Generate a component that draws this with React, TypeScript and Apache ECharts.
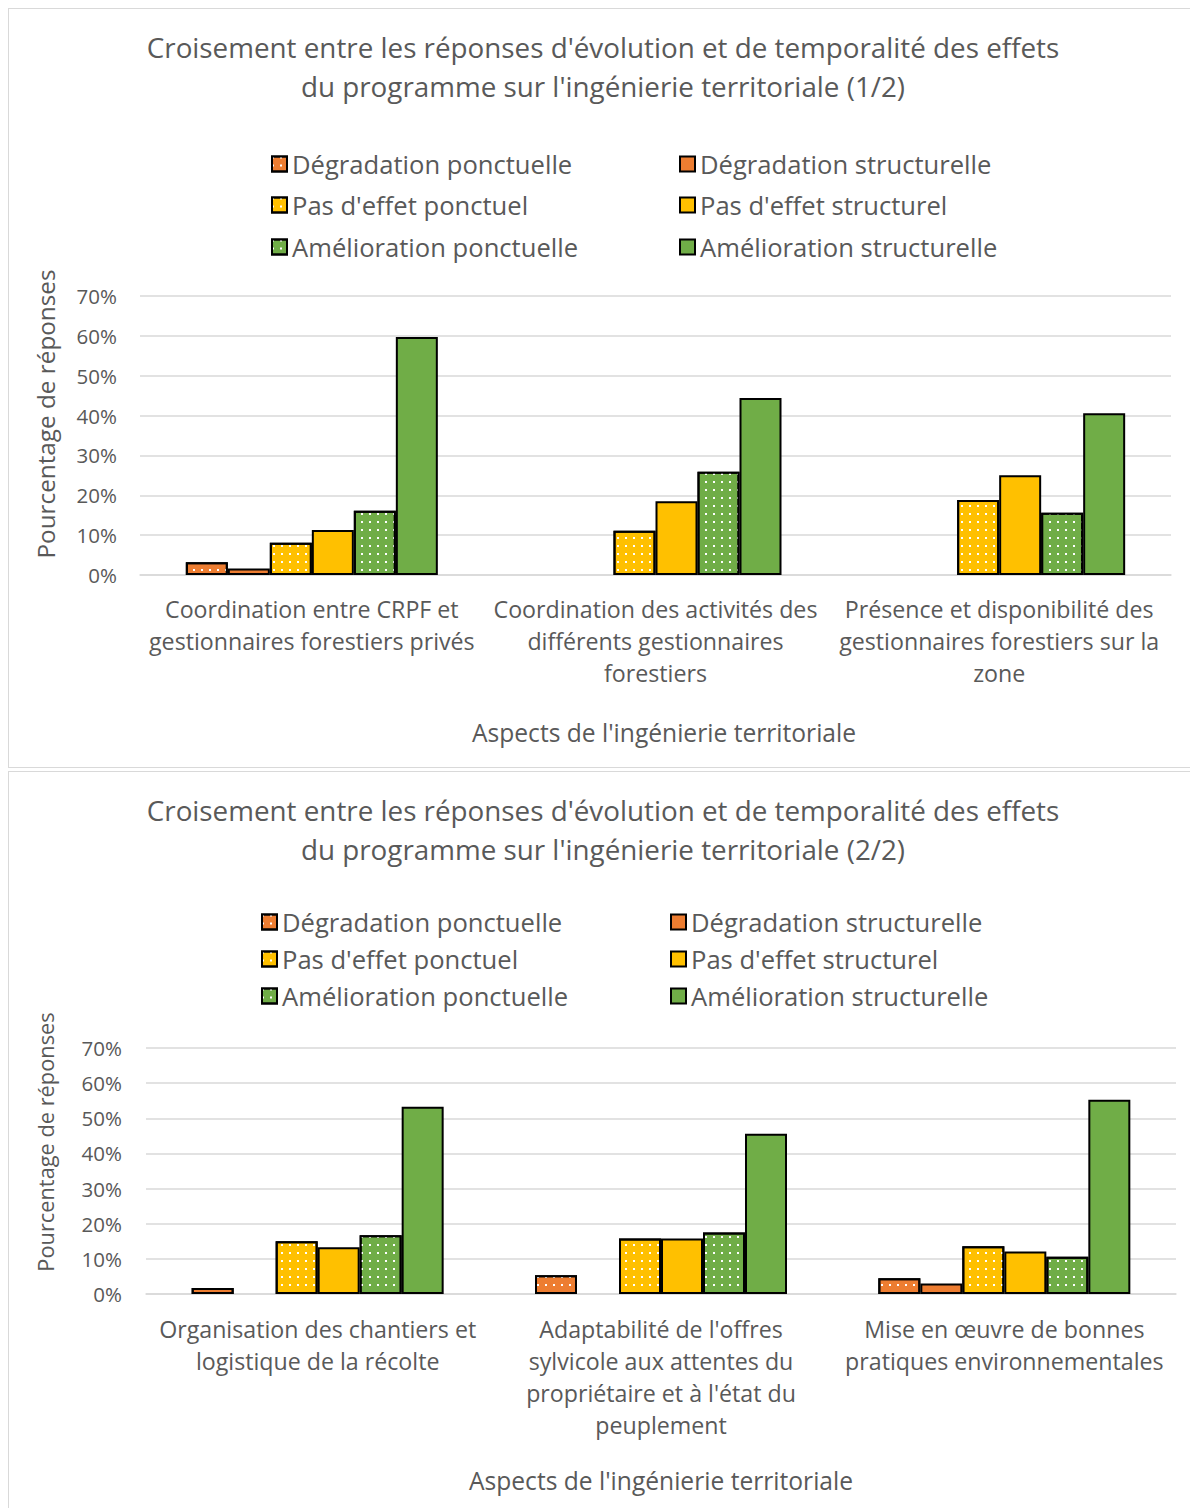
import React, { useEffect, useRef } from "react";
import * as echarts from "echarts";

const FONT = "'Open Sans', 'Noto Sans', sans-serif";
const TEXT_COLOR = "#595959";
const GRID_COLOR = "#d9d9d9";

const seriesNames = [
  "Dégradation ponctuelle",
  "Dégradation structurelle",
  "Pas d'effet ponctuel",
  "Pas d'effet structurel",
  "Amélioration ponctuelle",
  "Amélioration structurelle",
];
const seriesColors = ["#ED7D31", "#ED7D31", "#FFC000", "#FFC000", "#70AD47", "#70AD47"];
const seriesDotted = [true, false, true, false, true, false];

const yTicks = [0, 10, 20, 30, 40, 50, 60, 70];
const xAxisTitle = "Aspects de l'ingénierie territoriale";
const yAxisTitle = "Pourcentage de réponses";

// Chart 1
const title1 = "Croisement entre les réponses d'évolution et de temporalité des effets\ndu programme sur l'ingénierie territoriale (1/2)";
const categories1 = [
  "Coordination entre CRPF et\ngestionnaires forestiers privés",
  "Coordination des activités des\ndifférents gestionnaires\nforestiers",
  "Présence et disponibilité des\ngestionnaires forestiers sur la\nzone",
];
const degradationPonctuelle1 = [3.2, 0, 0];
const degradationStructurelle1 = [1.6, 0, 0];
const pasEffetPonctuel1 = [8.1, 11.1, 18.8];
const pasEffetStructurel1 = [11.3, 18.5, 25.0];
const ameliorationPonctuelle1 = [16.1, 25.9, 15.6];
const ameliorationStructurelle1 = [59.7, 44.4, 40.6];

// Chart 2
const title2 = "Croisement entre les réponses d'évolution et de temporalité des effets\ndu programme sur l'ingénierie territoriale (2/2)";
const categories2 = [
  "Organisation des chantiers et\nlogistique de la récolte",
  "Adaptabilité de l'offres\nsylvicole aux attentes du\npropriétaire et à l'état du\npeuplement",
  "Mise en œuvre de bonnes\npratiques environnementales",
];
const degradationPonctuelle2 = [1.7, 5.3, 4.5];
const degradationStructurelle2 = [0, 0, 3.0];
const pasEffetPonctuel2 = [15.0, 15.8, 13.6];
const pasEffetStructurel2 = [13.3, 15.8, 12.1];
const ameliorationPonctuelle2 = [16.7, 17.5, 10.6];
const ameliorationStructurelle2 = [53.3, 45.6, 55.3];

const values1 = [degradationPonctuelle1, degradationStructurelle1, pasEffetPonctuel1, pasEffetStructurel1, ameliorationPonctuelle1, ameliorationStructurelle1];
const values2 = [degradationPonctuelle2, degradationStructurelle2, pasEffetPonctuel2, pasEffetStructurel2, ameliorationPonctuelle2, ameliorationStructurelle2];

const dotDecal = {
  symbol: "rect",
  symbolSize: 1,
  color: "#ffffff",
  dashArrayX: [2, 6],
  dashArrayY: [2, 6],
  rotation: 0,
};

type Layout = {
  titleTop: number;
  legendLeft: number[];
  legendRows: number[];
  grid: { left: number; right: number; top: number; bottom: number };
  yLabelMargin: number;
  xLabelMargin: number;
  xNameGap: number;
  xNamePadLeft: number;
  yTitleX: number;
  yTitleY: number;
  yTitleSize: number;
};

function buildOption(title: string, categories: string[], values: number[][], L: Layout) {
  return {
    animation: false,
    textStyle: { fontFamily: FONT },
    title: {
      text: title,
      left: "center",
      top: L.titleTop,
      padding: [0, 0, 0, 7],
      textStyle: { fontSize: 27.8, fontWeight: "normal", color: TEXT_COLOR, lineHeight: 39, fontFamily: FONT },
    },
    legend: seriesNames.map((name, i) => ({
      data: [name],
      left: L.legendLeft[i % 2],
      top: L.legendRows[Math.floor(i / 2)] - 13,
      padding: 0,
      itemWidth: 15,
      itemHeight: 15,
      icon: "rect",
      selectedMode: false,
      textStyle: { fontSize: 25.6, color: TEXT_COLOR, lineHeight: 26, fontFamily: FONT },
    })),
    grid: { ...L.grid, containLabel: false },
    xAxis: {
      type: "category",
      data: categories,
      axisLine: { lineStyle: { color: GRID_COLOR, width: 1.5 } },
      axisTick: { show: false },
      axisLabel: { interval: 0, fontSize: 23.2, lineHeight: 32, color: TEXT_COLOR, margin: L.xLabelMargin, fontFamily: FONT },
      name: xAxisTitle,
      nameLocation: "middle",
      nameGap: L.xNameGap,
      nameTextStyle: { fontSize: 24.6, color: TEXT_COLOR, lineHeight: 28, fontFamily: FONT, padding: [0, 0, 0, L.xNamePadLeft] },
    },
    yAxis: {
      type: "value",
      min: yTicks[0],
      max: yTicks[yTicks.length - 1],
      interval: yTicks[1] - yTicks[0],
      axisLine: { show: false },
      axisTick: { show: false },
      axisLabel: { formatter: "{value}%", fontSize: 20.5, color: TEXT_COLOR, margin: L.yLabelMargin, fontFamily: FONT },
      splitLine: { lineStyle: { color: GRID_COLOR, width: 1.5 } },
    },
    graphic: [
      {
        type: "text",
        x: L.yTitleX,
        y: L.yTitleY,
        rotation: Math.PI / 2,
        style: {
          text: yAxisTitle,
          fontSize: L.yTitleSize,
          fontFamily: FONT,
          fill: TEXT_COLOR,
          align: "center",
          verticalAlign: "middle",
        },
      },
    ],
    series: seriesNames.map((name, i) => ({
      type: "bar",
      name,
      data: values[i].map((v) => (v === 0 ? { value: v, itemStyle: { borderWidth: 0 } } : v)),
      barWidth: 42,
      barGap: "0%",
      itemStyle: {
        color: seriesColors[i],
        borderColor: "#000000",
        borderWidth: 2,
        decal: seriesDotted[i] ? dotDecal : null,
      },
    })),
  };
}

const layout1: Layout = {
  titleTop: 18,
  legendLeft: [262, 670],
  legendRows: [155, 196, 238],
  grid: { left: 131, right: 26, top: 287, bottom: 192 },
  yLabelMargin: 23,
  xLabelMargin: 18,
  xNameGap: 143,
  xNamePadLeft: 17,
  yTitleX: 36,
  yTitleY: 405,
  yTitleSize: 24.3,
};

const layout2: Layout = {
  titleTop: 18,
  legendLeft: [252, 661],
  legendRows: [150, 187, 224],
  grid: { left: 137, right: 21, top: 276, bottom: 216 },
  yLabelMargin: 24,
  xLabelMargin: 19,
  xNameGap: 172,
  xNamePadLeft: 0,
  yTitleX: 36,
  yTitleY: 370,
  yTitleSize: 21.8,
};

function ChartBox({ option, height, marginTop }: { option: any; height: number; marginTop: number }) {
  const ref = useRef<HTMLDivElement>(null);
  useEffect(() => {
    if (!ref.current) return;
    const chart = echarts.init(ref.current, undefined, { renderer: "svg" });
    chart.setOption(option);
    return () => chart.dispose();
  }, [option]);
  return (
    <div
      style={{
        width: 1190,
        height,
        marginTop,
        border: `1px solid ${GRID_COLOR}`,
        boxSizing: "border-box",
        background: "#ffffff",
      }}
    >
      <div ref={ref} style={{ width: 1188, height: height - 2 }} />
    </div>
  );
}

const option1 = buildOption(title1, categories1, values1, layout1);
const option2 = buildOption(title2, categories2, values2, layout2);

export default function App() {
  return (
    <div>
      <ChartBox option={option1} height={760} marginTop={0} />
      <ChartBox option={option2} height={740} marginTop={3} />
    </div>
  );
}
